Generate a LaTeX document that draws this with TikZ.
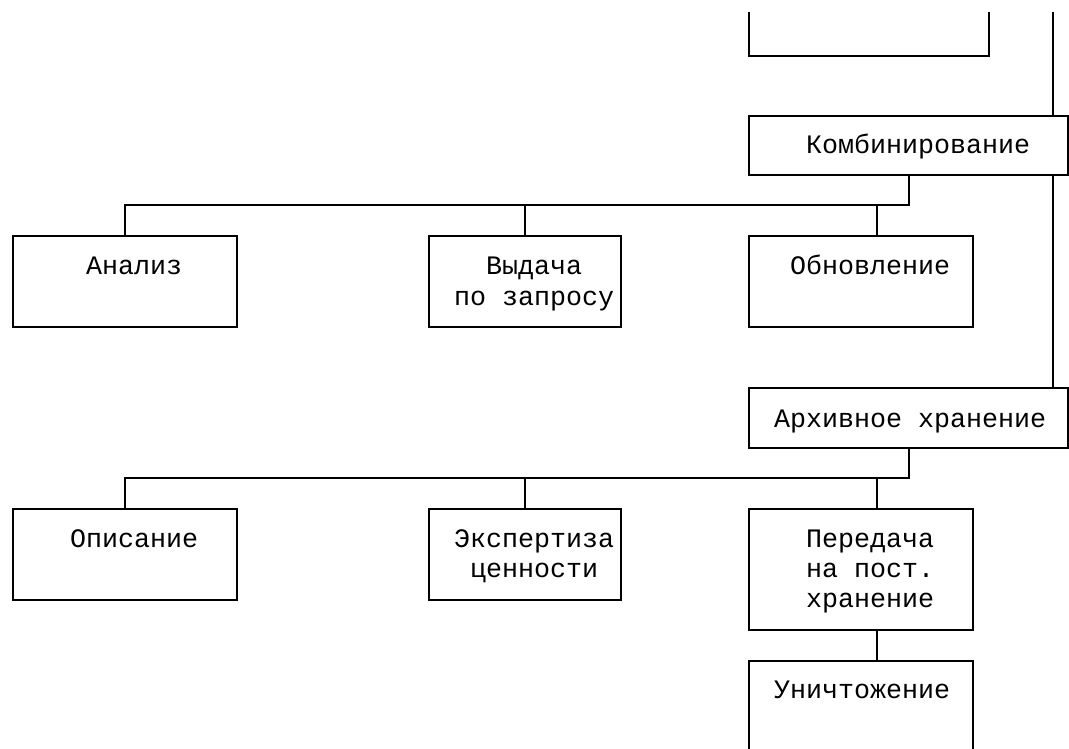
\documentclass[tikz,border=0pt]{standalone}
\usepackage{fontspec}
\setmonofont{Liberation Mono}
\begin{document}
\begin{tikzpicture}[x=1pt,y=-1pt,line width=2pt,
  box/.style={draw,rectangle,inner sep=0pt,outer sep=0pt},
  lbl/.style={font=\ttfamily\fontsize{26.67}{30}\selectfont,anchor=base west,inner sep=0pt}]
\useasboundingbox (0,0) rectangle (1069,749);
% boxes
\node[box,minimum width=319pt,minimum height=59pt] (komb) at (908.5,145.5) {};
\node[box,minimum width=224pt,minimum height=91pt] (anal) at (125,281.5) {};
\node[box,minimum width=192pt,minimum height=91pt] (vyd) at (525,281.5) {};
\node[box,minimum width=224pt,minimum height=91pt] (obn) at (861,281.5) {};
\node[box,minimum width=319pt,minimum height=60pt] (arch) at (908.5,418) {};
\node[box,minimum width=224pt,minimum height=91pt] (opis) at (125,554.5) {};
\node[box,minimum width=192pt,minimum height=91pt] (eksp) at (525,554.5) {};
\node[box,minimum width=224pt,minimum height=121pt] (pered) at (861,569.5) {};
\node[box,minimum width=224pt,minimum height=140pt] (unich) at (861,731) {};
% partial box at the top
\coordinate (tl) at (749,12);
\coordinate (tr) at (989,12);
\draw (tl) -- (tl |- 0,56) -- (tr |- 0,56) -- (tr);
% texts
\node[lbl] (t1) at (805,154) {Комбинирование};
\node[lbl] (t2) at (85,274) {Анализ};
\node[lbl] (t3) at (485,274) {Выдача};
\node[lbl] (t4) at (453,305) {по запросу};
\node[lbl] (t5) at (789,274) {Обновление};
\node[lbl] (t6) at (773,427) {Архивное хранение};
\node[lbl] (t7) at (69,547) {Описание};
\node[lbl] (t8) at (453,547) {Экспертиза};
\node[lbl] (t9) at (469,577) {ценности};
\node[lbl] (t10) at (805,547) {Передача};
\node[lbl] (t11) at (805,577) {на пост.};
\node[lbl] (t12) at (805,607) {хранение};
\node[lbl] (t13) at (773,698) {Уничтожение};
% right-hand line
\coordinate (rtop) at (1053,12);
\draw (rtop) -- (rtop |- komb.north);
\draw (komb.south -| rtop) -- (arch.north -| rtop);
% bus 1
\coordinate (b1) at (909,205);
\coordinate (d1) at (877,205);
\draw (komb.south -| b1) -- (b1) -- (b1 -| anal.north) -- (anal.north);
\draw (b1 -| vyd.north) -- (vyd.north);
\draw (d1) -- (obn.north -| d1);
% bus 2
\coordinate (b2) at (909,478);
\coordinate (d2) at (877,478);
\draw (arch.south -| b2) -- (b2) -- (b2 -| opis.north) -- (opis.north);
\draw (b2 -| eksp.north) -- (eksp.north);
\draw (d2) -- (pered.north -| d2);
\draw (pered.south -| d2) -- (unich.north -| d2);
\end{tikzpicture}
\end{document}
